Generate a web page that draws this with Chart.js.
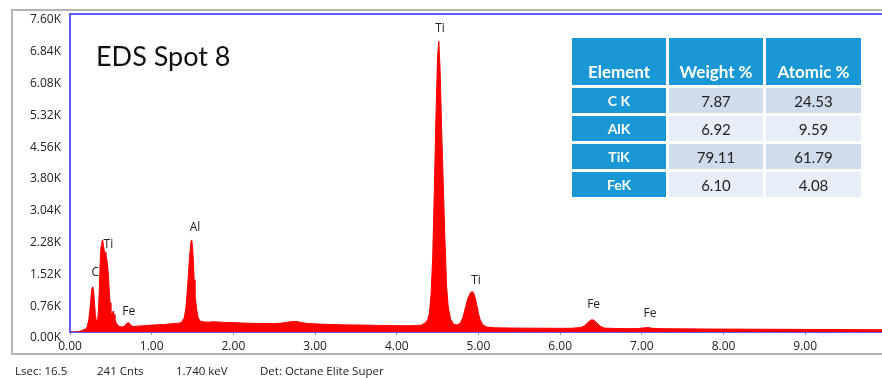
<!DOCTYPE html>
<html>
<head>
<meta charset="utf-8">
<script src="https://cdn.jsdelivr.net/npm/chart.js@4.4.1/dist/chart.umd.min.js"></script>
<style>
  body { margin: 0; width: 882px; height: 378px; overflow: hidden; background: #fff; position: relative; font-family: "Open Sans", sans-serif; }
  #frame { position: absolute; left: 11px; top: 9px; width: 900px; height: 346px; border: 2px solid #b4b4b4; box-sizing: border-box; }
  #myChart { position: absolute; left: 0; top: 0; }
  #title { position: absolute; left: 96px; top: 42px; font-family: Lato, sans-serif; font-size: 27px; line-height: 27px; color: #111; }
  #table { position: absolute; left: 572px; top: 38px; display: grid; grid-template-columns: 94px 94px 95px; grid-template-rows: 47px 25px 25px 25px 25px; gap: 3px; font-family: Lato, sans-serif; }
  #table div { display: flex; align-items: center; justify-content: center; }
  #table .head { background: #1a98d5; color: #fff; font-weight: bold; font-size: 17px; align-items: flex-end; padding-bottom: 3px; box-sizing: border-box; }
  #table .el { background: #1a98d5; color: #fff; font-weight: bold; font-size: 14px; }
  #table .dark { background: #cfdcec; color: #222; font-size: 15px; }
  #table .light { background: #e8eef7; color: #222; font-size: 15px; }
  .foot { position: absolute; top: 363px; font-size: 11.5px; color: #222; }
</style>
</head>
<body>
<div id="frame"></div>
<canvas id="myChart" width="882" height="378"></canvas>
<div id="title">EDS Spot 8</div>
<div id="table"></div>
<div class="foot" style="left:15px">Lsec: 16.5</div>
<div class="foot" style="left:97px">241 Cnts</div>
<div class="foot" style="left:176px">1.740 keV</div>
<div class="foot" style="left:260px">Det: Octane Elite Super</div>
<script>
// spectrum (keV / counts)
const energies = [
  0.00, 0.08, 0.10, 0.13, 0.16, 0.19, 0.21, 0.23, 0.25, 0.26, 0.27, 0.28, 0.29, 0.30, 0.31, 0.32, 0.33, 0.34,
  0.35, 0.36, 0.37, 0.38, 0.39, 0.40, 0.41, 0.42, 0.43, 0.44, 0.45, 0.46, 0.47, 0.48, 0.49, 0.50, 0.51, 0.52,
  0.53, 0.54, 0.55, 0.57, 0.60, 0.63, 0.66, 0.69, 0.71, 0.73, 0.75, 0.78, 0.82, 0.86, 0.90, 0.95, 1.00, 1.05,
  1.10, 1.15, 1.20, 1.25, 1.30, 1.34, 1.37, 1.40, 1.42, 1.44, 1.46, 1.48, 1.49, 1.50, 1.51, 1.52, 1.53, 1.55,
  1.57, 1.60, 1.65, 1.70, 1.75, 1.80, 1.90, 2.00, 2.10, 2.20, 2.30, 2.40, 2.50, 2.60, 2.70, 2.75, 2.80, 2.90,
  3.00, 3.10, 3.20, 3.30, 3.40, 3.50, 3.60, 3.70, 3.80, 3.90, 4.00, 4.10, 4.20, 4.30, 4.35, 4.38, 4.40, 4.42,
  4.44, 4.46, 4.48, 4.50, 4.515, 4.53, 4.55, 4.57, 4.59, 4.61, 4.63, 4.66, 4.70, 4.74, 4.78, 4.81, 4.84, 4.87,
  4.90, 4.92, 4.94, 4.96, 4.98, 5.00, 5.02, 5.05, 5.10, 5.20, 5.40, 5.60, 5.80, 6.00, 6.15, 6.25, 6.30, 6.34,
  6.38, 6.41, 6.45, 6.49, 6.54, 6.65, 6.80, 6.95, 7.03, 7.07, 7.12, 7.25, 7.50, 7.75, 8.00, 8.25, 8.50, 8.75,
  9.00, 9.25, 9.50, 9.75, 9.94
];
const counts = [
  0, 0, 10, 25, 45, 70, 120, 300, 650, 900, 1060, 1080, 950, 700, 420, 290, 260, 300,
  600, 1100, 1700, 2050, 2150, 2200, 2050, 1950, 1900, 1820, 1750, 1600, 1350, 1000, 700, 480, 420, 470,
  500, 420, 300, 200, 140, 120, 130, 190, 230, 200, 150, 130, 140, 145, 150, 160, 165, 170,
  180, 175, 190, 200, 205, 215, 240, 350, 600, 1100, 1700, 2150, 2200, 2050, 1700, 1250, 900, 550,
  330, 250, 240, 235, 245, 240, 230, 225, 215, 210, 200, 205, 200, 215, 245, 255, 240, 205,
  195, 185, 180, 175, 170, 168, 165, 160, 158, 155, 152, 150, 150, 165, 220, 300, 450, 900,
  1800, 3400, 5200, 6600, 6950, 6300, 4800, 3500, 2200, 1100, 600, 300, 180, 170, 220, 350, 580, 800,
  930, 970, 940, 820, 640, 450, 300, 180, 120, 100, 95, 92, 90, 88, 90, 110, 150, 230,
  290, 285, 220, 140, 95, 85, 80, 82, 100, 108, 90, 78, 75, 72, 70, 68, 66, 64,
  62, 60, 58, 56, 55
];

const xTicks = [0, 1, 2, 3, 4, 5, 6, 7, 8, 9];
const yTicks = [0, 760, 1520, 2280, 3040, 3800, 4560, 5320, 6080, 6840, 7600];

// peak labels: text, keV, counts where the label sits
const peakNames = ['C', 'Ti', 'Fe', 'Al', 'Ti', 'Ti', 'Fe', 'Fe'];
const peakEnergies = [0.31, 0.47, 0.72, 1.53, 4.53, 4.97, 6.41, 7.10];
const peakLabelCounts = [1410, 2100, 480, 2490, 7240, 1240, 650, 430];

// quantification table
const elements = ['C K', 'AlK', 'TiK', 'FeK'];
const weightPct = ['7.87', '6.92', '79.11', '6.10'];
const atomicPct = ['24.53', '9.59', '61.79', '4.08'];

const table = document.getElementById('table');
let html = '<div class="head">Element</div><div class="head">Weight %</div><div class="head">Atomic %</div>';
elements.forEach((el, i) => {
  const shade = i % 2 === 0 ? 'dark' : 'light';
  html += `<div class="el">${el}</div><div class="${shade}">${weightPct[i]}</div><div class="${shade}">${atomicPct[i]}</div>`;
});
table.innerHTML = html;

const blue = '#5a5aff';

const framePlugin = {
  id: 'frameTop',
  afterDraw(chart) {
    const { ctx, chartArea } = chart;
    ctx.save();
    ctx.strokeStyle = blue;
    ctx.lineWidth = 2;
    ctx.beginPath();
    ctx.moveTo(chartArea.left, chartArea.top);
    ctx.lineTo(chartArea.right, chartArea.top);
    ctx.stroke();

    // peak labels
    ctx.fillStyle = '#222';
    ctx.font = '12px "Open Sans"';
    ctx.textAlign = 'center';
    ctx.textBaseline = 'middle';
    peakNames.forEach((name, i) => {
      const x = chart.scales.x.getPixelForValue(peakEnergies[i]);
      const y = chart.scales.y.getPixelForValue(peakLabelCounts[i]);
      ctx.fillText(name, x, y);
    });
    ctx.restore();
  }
};

const ctx = document.getElementById('myChart').getContext('2d');
const myChart = new Chart(ctx, {
  type: 'line',
  data: {
    datasets: [{
      data: energies.map((e, i) => ({ x: e, y: counts[i] })),
      borderColor: '#ff0000',
      backgroundColor: '#ff0000',
      borderWidth: 1,
      pointRadius: 0,
      fill: 'origin',
      tension: 0
    }]
  },
  options: {
    responsive: false,
    animation: false,
    layout: { padding: { left: 0, top: 14, right: 0, bottom: 22 } },
    plugins: { legend: { display: false }, tooltip: { enabled: false } },
    scales: {
      x: {
        type: 'linear',
        min: 0,
        max: 9.94,
        afterBuildTicks: s => { s.ticks = xTicks.map(v => ({ value: v })); },
        afterFit: s => { s.height = 24; },
        grid: { drawOnChartArea: false, tickLength: 3, color: '#999' },
        border: { display: true, color: blue, width: 2 },
        ticks: {
          padding: 4,
          color: '#222',
          font: { family: 'Open Sans', size: 12 },
          maxRotation: 0,
          callback: v => v.toFixed(2)
        }
      },
      y: {
        min: 0,
        max: 7600,
        afterBuildTicks: s => { s.ticks = yTicks.map(v => ({ value: v })); },
        afterFit: s => { s.width = 70; },
        grid: { display: false },
        border: { display: true, color: blue, width: 2 },
        ticks: {
          padding: 1,
          labelOffset: 6,
          color: '#222',
          font: { family: 'Open Sans', size: 12 },
          callback: v => (v / 1000).toFixed(2) + 'K'
        }
      }
    }
  },
  plugins: [framePlugin]
});
</script>
</body>
</html>
